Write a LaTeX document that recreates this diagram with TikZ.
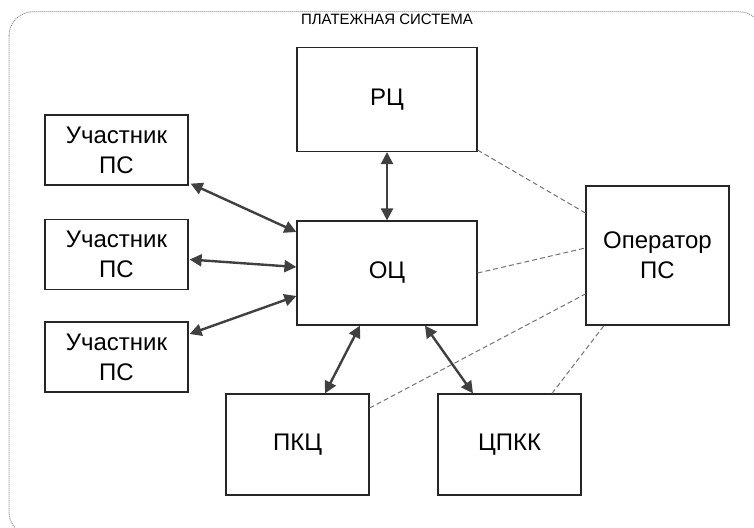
\documentclass[tikz,border=0pt]{standalone}
\usepackage{fontspec}
\setmainfont{Liberation Sans}
\usetikzlibrary{arrows.meta}
\begin{document}
\begin{tikzpicture}[x=1pt,y=-1pt,
  blk/.style={draw=black!85, line width=1.2pt, fill=white, align=center,
    font=\fontsize{24}{30}\selectfont, inner sep=0pt},
  small/.style={minimum width=143pt, minimum height=70pt},
  big/.style={minimum width=180pt, minimum height=104pt},
  tall/.style={minimum width=143pt, minimum height=139pt},
  low/.style={minimum width=143pt, minimum height=101pt},
  link/.style={draw=black!75, line width=2.4pt,
    {Triangle[length=12pt,width=12pt]}-{Triangle[length=12pt,width=12pt]}},
  dashline/.style={draw=black!55, line width=1pt, dash pattern=on 5pt off 3pt}
]
\useasboundingbox (0,0) rectangle (754,527);
\begin{scope}
\clip (0,0) rectangle (754,527);
\draw[black!45, line width=1pt, dash pattern=on 1pt off 1pt, rounded corners=24pt] (9,11.7) rectangle (763,536);
\end{scope}
\node[font=\fontsize{15}{18}\selectfont, inner sep=0pt] (title) at (387,19.5) {ПЛАТЕЖНАЯ СИСТЕМА};

\node[blk, big]  (rc)   at (387,99.5)  {РЦ};
\node[blk, big]  (oc)   at (387,273)   {ОЦ};
\node[blk, small] (u1)  at (116.5,150) {Участник\\ПС};
\node[blk, small] (u2)  at (116.5,254.5) {Участник\\ПС};
\node[blk, small] (u3)  at (116.5,357) {Участник\\ПС};
\node[blk, tall] (op)   at (657.5,255.5) {Оператор\\ПС};
\node[blk, low]  (pkc)  at (297.5,444.5) {ПКЦ};
\node[blk, low]  (cpkk) at (509.5,444.5) {ЦПКК};

\draw[dashline] ([yshift=2pt]rc.south east) -- ([yshift=42.5pt]op.west);
\draw[dashline] (oc.east) -- ([yshift=7.5pt]op.west);
\draw[dashline] ([yshift=36.5pt]pkc.east) -- ([yshift=-38.5pt]op.west);
\draw[dashline] ([xshift=42.5pt]cpkk.north) -- ([xshift=-53.5pt]op.south);

\draw[link] ([xshift=2pt,yshift=2pt]u1.south east) -- ([yshift=41pt]oc.west);
\draw[link] ([xshift=1pt,yshift=-5pt]u2.east) -- ([yshift=6pt]oc.west);
\draw[link] ([xshift=1pt,yshift=23pt]u3.east) -- ([yshift=-23pt]oc.west);
\draw[link] (rc.south) -- (oc.north);
\draw[link] ([xshift=-27pt]oc.south) -- ([xshift=27.5pt]pkc.north);
\draw[link] ([xshift=38pt]oc.south) -- ([xshift=-36.5pt]cpkk.north);
\end{tikzpicture}
\end{document}
